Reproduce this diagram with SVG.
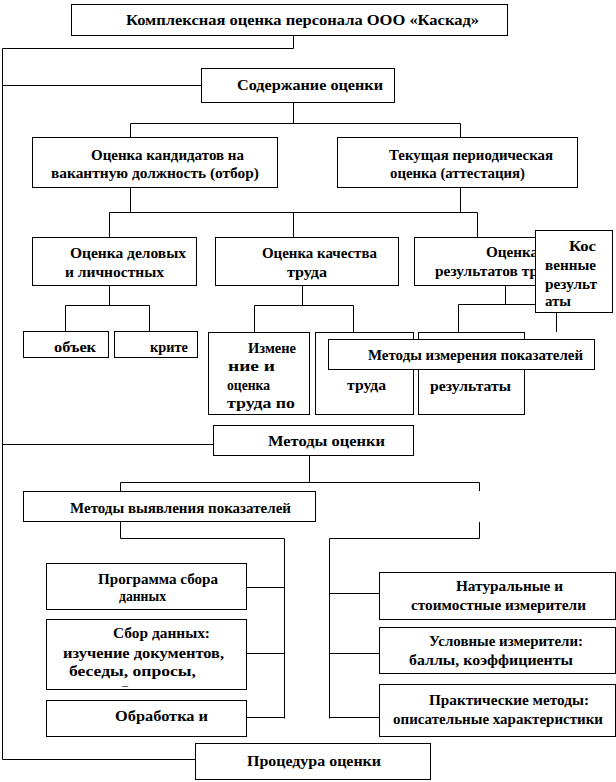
<svg xmlns="http://www.w3.org/2000/svg" width="616" height="782" viewBox="0 0 616 782">
<style>
.bg{fill:#ffffff}
.box{fill:#ffffff;stroke:#000000;stroke-width:1}
.ln{fill:none;stroke:#000000;stroke-width:1}
text{font-family:"Liberation Serif","DejaVu Serif",serif;font-size:15px;font-weight:bold;fill:#000000}
.tiny{font-size:9px}
</style>
<rect class="bg" x="0" y="0" width="616" height="782"/>
<g id="connectors">
<path class="ln" d="M293.5,35 V48.5 H2.5 V759.5 H195"/>
<path class="ln" d="M2.5,85.5 H201"/>
<path class="ln" d="M293.5,102 V123.5 M130.5,137 V123.5 H460.5 V137"/>
<path class="ln" d="M130.5,187 V212.5 M460.5,187 V212.5 M109.5,237 V212.5 H477.5 V237 M293.5,212.5 V237"/>
<path class="ln" d="M109.5,285 V305.5 M65.5,331 V305.5 H149.5 V331"/>
<path class="ln" d="M302.5,285 V305.5 M254.5,332 V305.5 H353.5 V332"/>
<path class="ln" d="M505.5,285 V304.5 M458.5,332 V304.5 H556.5 V332"/>
<path class="ln" d="M2.5,444.5 H213"/>
<path class="ln" d="M309.5,456 V482.5 M120.5,491 V482.5 H479.5 V491"/>
<path class="ln" d="M120.5,522 V538.5 H284.5 V718.5"/>
<path class="ln" d="M479.5,522 V538.5 H329.5 V718.5"/>
<path class="ln" d="M247,587.5 H284.5 M247,653.5 H284.5 M247,717.5 H284.5"/>
<path class="ln" d="M329.5,593.5 H379 M329.5,653.5 H379 M329.5,717.5 H379"/>
</g>
<g id="n-title">
<rect class="box" x="71.5" y="4.5" width="436" height="31"/>
<text x="126" y="25" textLength="353" lengthAdjust="spacingAndGlyphs">Комплексная оценка персонала  ООО «Каскад»</text>
</g>
<g id="n-content">
<rect class="box" x="201.5" y="68.5" width="193" height="34"/>
<text x="237" y="90" textLength="146" lengthAdjust="spacingAndGlyphs">Содержание оценки</text>
</g>
<g id="n-selection">
<rect class="box" x="32.5" y="137.5" width="245" height="50"/>
<text x="91" y="160" textLength="153" lengthAdjust="spacingAndGlyphs">Оценка кандидатов на</text>
<text x="51" y="178" textLength="208" lengthAdjust="spacingAndGlyphs">вакантную должность (отбор)</text>
</g>
<g id="n-attestation">
<rect class="box" x="337.5" y="137.5" width="240" height="50"/>
<text x="389" y="160" textLength="164" lengthAdjust="spacingAndGlyphs">Текущая  периодическая</text>
<text x="390" y="178" textLength="135" lengthAdjust="spacingAndGlyphs">оценка (аттестация)</text>
</g>
<g id="n-business">
<rect class="box" x="32.5" y="237.5" width="164" height="48"/>
<text x="70" y="258" textLength="116" lengthAdjust="spacingAndGlyphs">Оценка деловых</text>
<text x="65" y="277" textLength="99" lengthAdjust="spacingAndGlyphs">и личностных</text>
</g>
<g id="n-quality">
<rect class="box" x="215.5" y="237.5" width="183" height="48"/>
<text x="262" y="258" textLength="115" lengthAdjust="spacingAndGlyphs">Оценка качества</text>
<text x="287" y="277" textLength="40" lengthAdjust="spacingAndGlyphs">труда</text>
</g>
<g id="n-results">
<rect class="box" x="414.5" y="237.5" width="186" height="48"/>
<text x="486" y="257" textLength="52" lengthAdjust="spacingAndGlyphs">Оценка</text>
<text x="435" y="276" textLength="103" lengthAdjust="spacingAndGlyphs">результатов  тр</text>
</g>
<g id="n-indirect">
<rect class="box" x="535.5" y="230.5" width="77" height="82"/>
<text x="569" y="251" textLength="27" lengthAdjust="spacingAndGlyphs">Кос</text>
<text x="545" y="270" textLength="51" lengthAdjust="spacingAndGlyphs">венные</text>
<text x="545" y="289" textLength="52" lengthAdjust="spacingAndGlyphs">результ</text>
<text x="545" y="306" textLength="26" lengthAdjust="spacingAndGlyphs">аты</text>
</g>
<g id="n-object">
<rect class="box" x="23.5" y="331.5" width="85" height="26"/>
<text x="54" y="352" textLength="42" lengthAdjust="spacingAndGlyphs">объек</text>
</g>
<g id="n-criteria">
<rect class="box" x="114.5" y="331.5" width="83" height="26"/>
<text x="150" y="352" textLength="38" lengthAdjust="spacingAndGlyphs">крите</text>
</g>
<g id="n-measure">
<rect class="box" x="208.5" y="332.5" width="101" height="82"/>
<text x="248" y="353" textLength="48" lengthAdjust="spacingAndGlyphs">Измене</text>
<text x="228" y="371" textLength="47" lengthAdjust="spacingAndGlyphs">ние и</text>
<text x="227" y="390" textLength="43" lengthAdjust="spacingAndGlyphs">оценка</text>
<text x="227" y="408" textLength="68" lengthAdjust="spacingAndGlyphs">труда по</text>
</g>
<g id="n-labour">
<rect class="box" x="315.5" y="332.5" width="98" height="82"/>
<text x="347" y="390" textLength="39" lengthAdjust="spacingAndGlyphs">труда</text>
</g>
<g id="n-direct">
<rect class="box" x="418.5" y="332.5" width="106" height="82"/>
<text x="430" y="391" textLength="81" lengthAdjust="spacingAndGlyphs">результаты</text>
</g>
<g id="n-measure-methods">
<rect class="box" x="328.5" y="339.5" width="266" height="30"/>
<text x="368" y="360" textLength="215" lengthAdjust="spacingAndGlyphs">Методы измерения показателей</text>
</g>
<g id="n-methods">
<rect class="box" x="213.5" y="425.5" width="200" height="30"/>
<text x="268" y="446" textLength="117" lengthAdjust="spacingAndGlyphs">Методы оценки</text>
</g>
<g id="n-identify">
<rect class="box" x="23.5" y="491.5" width="292" height="30"/>
<text x="70" y="513" textLength="221" lengthAdjust="spacingAndGlyphs">Методы выявления показателей</text>
</g>
<g id="n-program">
<rect class="box" x="46.5" y="563.5" width="200" height="46"/>
<text x="98" y="584" textLength="120" lengthAdjust="spacingAndGlyphs">Программа сбора</text>
<text x="119" y="601" textLength="47" lengthAdjust="spacingAndGlyphs">данных</text>
</g>
<g id="n-collect">
<rect class="box" x="46.5" y="619.5" width="200" height="70"/>
<text x="113" y="638" textLength="97" lengthAdjust="spacingAndGlyphs">Сбор данных:</text>
<text x="63" y="658" textLength="161" lengthAdjust="spacingAndGlyphs">изучение документов,</text>
<text x="69" y="676" textLength="127" lengthAdjust="spacingAndGlyphs">беседы, опросы,</text>
<text class="tiny" x="122" y="688" textLength="6" lengthAdjust="spacingAndGlyphs">–</text>
</g>
<g id="n-process">
<rect class="box" x="46.5" y="700.5" width="200" height="36"/>
<text x="115" y="721" textLength="93" lengthAdjust="spacingAndGlyphs">Обработка и</text>
</g>
<g id="n-natural">
<rect class="box" x="379.5" y="572.5" width="236" height="47"/>
<text x="456" y="591" textLength="107" lengthAdjust="spacingAndGlyphs">Натуральные и</text>
<text x="411" y="610" textLength="175" lengthAdjust="spacingAndGlyphs">стоимостные измерители</text>
</g>
<g id="n-conditional">
<rect class="box" x="379.5" y="627.5" width="236" height="46"/>
<text x="429" y="646" textLength="154" lengthAdjust="spacingAndGlyphs">Условные измерители:</text>
<text x="409" y="665" textLength="164" lengthAdjust="spacingAndGlyphs">баллы, коэффициенты</text>
</g>
<g id="n-practical">
<rect class="box" x="379.5" y="684.5" width="236" height="52"/>
<text x="429" y="705" textLength="160" lengthAdjust="spacingAndGlyphs">Практические методы:</text>
<text x="393" y="724" textLength="210" lengthAdjust="spacingAndGlyphs">описательные характеристики</text>
</g>
<g id="n-procedure">
<rect class="box" x="195.5" y="743.5" width="235" height="36"/>
<text x="247" y="766" textLength="134" lengthAdjust="spacingAndGlyphs">Процедура оценки</text>
</g>
</svg>
